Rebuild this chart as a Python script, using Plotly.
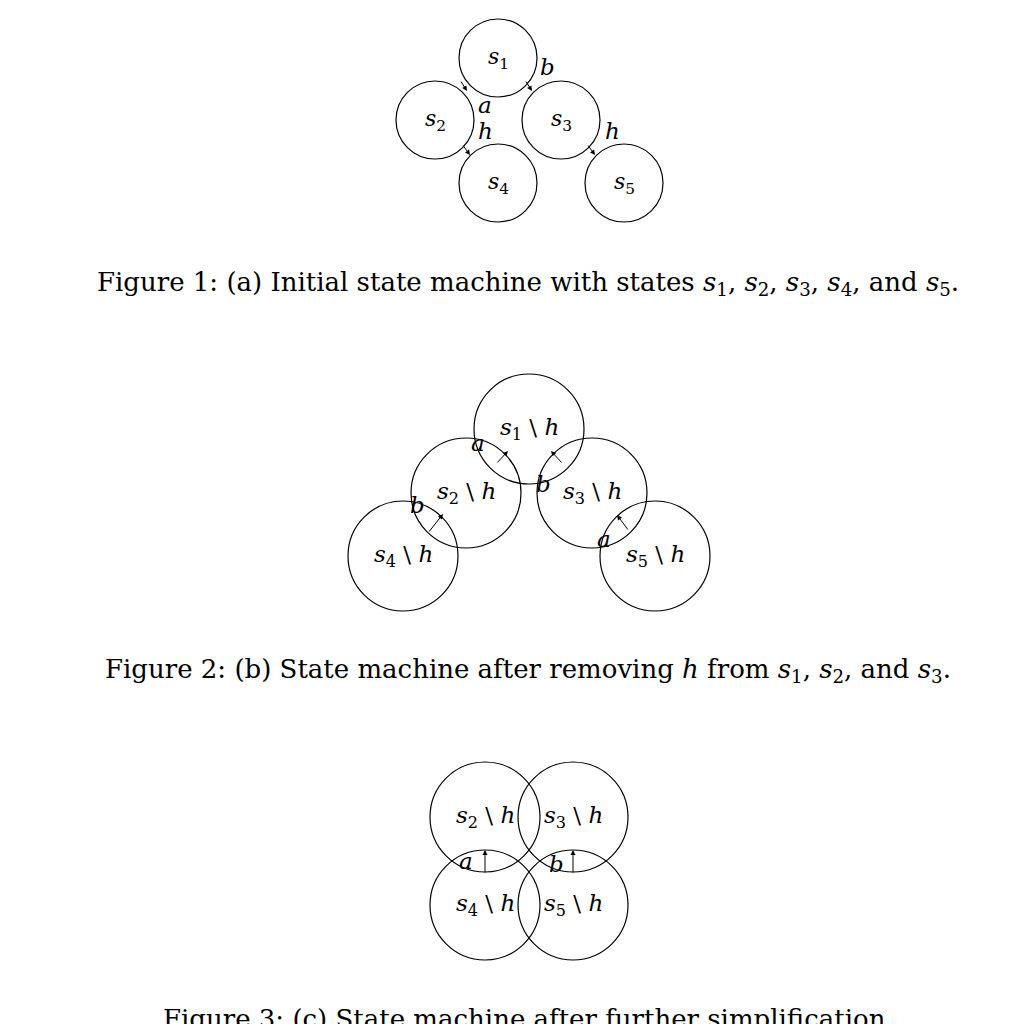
import plotly.graph_objects as go

# ---- node data (centre x, centre y, radius, label) in page pixels
f1_x = [482, 419, 545, 482, 608]
f1_y = [42, 104, 104, 167, 167]
f1_r = 39
f1_lab = ["<i>s</i><sub>1</sub>", "<i>s</i><sub>2</sub>", "<i>s</i><sub>3</sub>",
          "<i>s</i><sub>4</sub>", "<i>s</i><sub>5</sub>"]

f2_x = [513, 450, 576, 387, 639]
f2_y = [413, 477, 477, 540, 540]
f2_r = 55
f2_lab = ["<i>s</i><sub>1</sub> \\ <i>h</i>", "<i>s</i><sub>2</sub> \\ <i>h</i>",
          "<i>s</i><sub>3</sub> \\ <i>h</i>", "<i>s</i><sub>4</sub> \\ <i>h</i>",
          "<i>s</i><sub>5</sub> \\ <i>h</i>"]

f3_x = [469, 557, 469, 557]
f3_y = [801, 801, 889, 889]
f3_r = 55
f3_lab = ["<i>s</i><sub>2</sub> \\ <i>h</i>", "<i>s</i><sub>3</sub> \\ <i>h</i>",
          "<i>s</i><sub>4</sub> \\ <i>h</i>", "<i>s</i><sub>5</sub> \\ <i>h</i>"]

# ---- edges: (from x, from y, to x, to y, label, label x, label y)
edges = [
    (444, 64, 451, 75, "a", 469, 89),
    (509, 64, 516, 75, "b", 531, 51),
    (446, 128, 454, 139, "h", 469, 115),
    (571, 128, 579, 139, "h", 596, 115),
    (480, 448, 492, 435, "a", 462, 427),
    (547, 448, 535, 435, "b", 527, 468),
    (412, 517, 427, 498, "b", 401, 489),
    (613, 515, 601, 499, "a", 588, 523),
    (469, 858, 469, 834, "a", 450, 845),
    (557, 858, 557, 834, "b", 540, 848),
]

captions = [
    ("Figure 1: (a) Initial state machine with states <i>s</i><sub>1</sub>, <i>s</i><sub>2</sub>, "
     "<i>s</i><sub>3</sub>, <i>s</i><sub>4</sub>, and <i>s</i><sub>5</sub>.", 267),
    ("Figure 2: (b) State machine after removing <i>h</i> from <i>s</i><sub>1</sub>, "
     "<i>s</i><sub>2</sub>, and <i>s</i><sub>3</sub>.", 654),
    ("Figure 3: (c) State machine after further simplification.", 1003),
]

FONT = "DejaVu Serif"
fig = go.Figure()

for xs, ys, r, labs, size in [(f1_x, f1_y, f1_r, f1_lab, 22),
                              (f2_x, f2_y, f2_r, f2_lab, 23),
                              (f3_x, f3_y, f3_r, f3_lab, 23)]:
    for x, y, lab in zip(xs, ys, labs):
        fig.add_shape(type="circle", x0=x - r, x1=x + r, y0=y - r, y1=y + r,
                      line=dict(color="black", width=1.2))
        fig.add_annotation(x=x, y=y, text=lab, showarrow=False,
                           font=dict(family=FONT, size=size, color="black"))

for x0, y0, x1, y1, lab, lx, ly in edges:
    fig.add_annotation(x=x1, y=y1, ax=x0, ay=y0, axref="x", ayref="y",
                       xref="x", yref="y", text="", showarrow=True,
                       arrowhead=2, arrowsize=1, arrowwidth=1, arrowcolor="black")
    fig.add_annotation(x=lx, y=ly, text="<i>" + lab + "</i>", showarrow=False,
                       font=dict(family=FONT, size=23, color="black"))

for text, y in captions:
    fig.add_annotation(x=512, y=y, text=text, showarrow=False,
                       font=dict(family=FONT, size=26, color="black"))

# the page puts the figure 8 px in from the corner; shift ranges to compensate
fig.update_xaxes(range=[-8, 1016], visible=False)
fig.update_yaxes(range=[1016, -8], visible=False)
fig.update_layout(width=1024, height=1024, margin=dict(l=0, r=0, t=0, b=0),
                  plot_bgcolor="white", paper_bgcolor="white", showlegend=False)

fig.write_html("out.html")
